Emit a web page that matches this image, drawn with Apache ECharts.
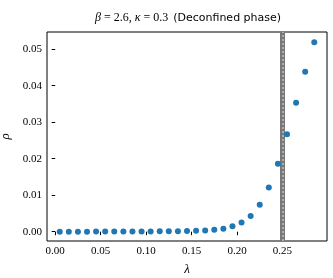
<!DOCTYPE html>
<html><head><meta charset="utf-8">
<script src="https://cdn.jsdelivr.net/npm/echarts@6/dist/echarts.min.js"></script>
<style>html,body{margin:0;padding:0;background:#fff}#c{width:333px;height:278px}</style>
</head><body><div id="c"></div>
<script>
var lambdaValues = [0.005,0.015,0.025,0.035,0.045,0.055,0.065,0.075,0.085,0.095,0.105,0.115,0.125,0.135,0.145,0.155,0.165,0.175,0.185,0.195,0.205,0.215,0.225,0.235,0.245,0.255,0.265,0.275,0.285];
var rhoValues = [0,0,0,0,0.00002,0.00003,0.00004,0.00005,0.00006,0.00007,0.00008,0.0001,0.00012,0.00015,0.0002,0.00025,0.00035,0.0005,0.0008,0.0015,0.0025,0.0043,0.0074,0.0121,0.0186,0.0267,0.0353,0.0438,0.0519];
var xTicks = [0.00,0.05,0.10,0.15,0.20,0.25];
var yTicks = [0.00,0.01,0.02,0.03,0.04,0.05];
var criticalLambda = 0.248;
var titleParts = ['β', ' = 2.6, ', 'κ', ' = 0.3', '(Deconfined phase)'];

var pts = lambdaValues.map(function(x,i){return [x, rhoValues[i]];});
var serif = '"Liberation Serif", "DejaVu Serif", serif';
var chart = echarts.init(document.getElementById('c'), null, {renderer:'canvas'});
chart.setOption({
  animation:false,
  title:{
    text:'{i|' + titleParts[0] + '}{m|' + titleParts[1] + '}{i|' + titleParts[2] + '}{m|' + titleParts[3] + '} {s|' + titleParts[4] + '}',
    left:183, top:4, textAlign:'center',
    textStyle:{fontWeight:'normal', rich:{
      i:{fontFamily:serif, fontSize:12, fontStyle:'italic', fontWeight:'normal', color:'#000'},
      m:{fontFamily:serif, fontSize:12, fontWeight:'normal', color:'#000'},
      s:{fontFamily:'"DejaVu Sans", sans-serif', fontSize:11, fontWeight:'normal', color:'#000'}
    }}
  },
  grid:{left:47, top:32, right:6, bottom:37, containLabel:false, outerBoundsMode:'none', show:true, borderColor:'#000', borderWidth:1, backgroundColor:'transparent'},
  xAxis:{
    type:'value', min:-0.009, max:0.299,
    name:'λ', nameLocation:'middle', nameGap:22,
    nameTextStyle:{fontFamily:serif, fontStyle:'italic', fontSize:13, color:'#000'},
    axisLine:{show:false},
    splitLine:{show:false},
    axisTick:{show:true, inside:false, length:3.5, lineStyle:{color:'#000'}, customValues:xTicks},
    axisLabel:{customValues:xTicks, formatter:function(v){return v.toFixed(2);}, fontFamily:serif, fontSize:11, color:'#000', margin:5}
  },
  yAxis:{
    type:'value', min:-0.00255, max:0.0547,
    name:'ρ', nameLocation:'middle', nameGap:31, nameRotate:90,
    nameTextStyle:{fontFamily:serif, fontStyle:'italic', fontSize:13, color:'#000'},
    axisLine:{show:false},
    splitLine:{show:false},
    axisTick:{show:true, length:3.5, lineStyle:{color:'#000'}, customValues:yTicks},
    axisLabel:{customValues:yTicks, formatter:function(v){return v.toFixed(2);}, fontFamily:serif, fontSize:11, color:'#000', margin:5}
  },
  series:[
    {type:'line', data:[], silent:true,
     markLine:{silent:true, symbol:['none','none'], label:{show:false},
       lineStyle:{color:'#777', width:5, type:'solid'}, data:[{xAxis:criticalLambda}]}},
    {type:'line', data:[], silent:true,
     markLine:{silent:true, symbol:['none','none'], label:{show:false},
       lineStyle:{color:'#c0c0c0', width:1.5, type:[2,2]}, data:[{xAxis:criticalLambda}]}},
    {type:'scatter', data:pts, symbolSize:6, itemStyle:{color:'#1f77b4', opacity:1}, z:5}
  ]
});
</script></body></html>
